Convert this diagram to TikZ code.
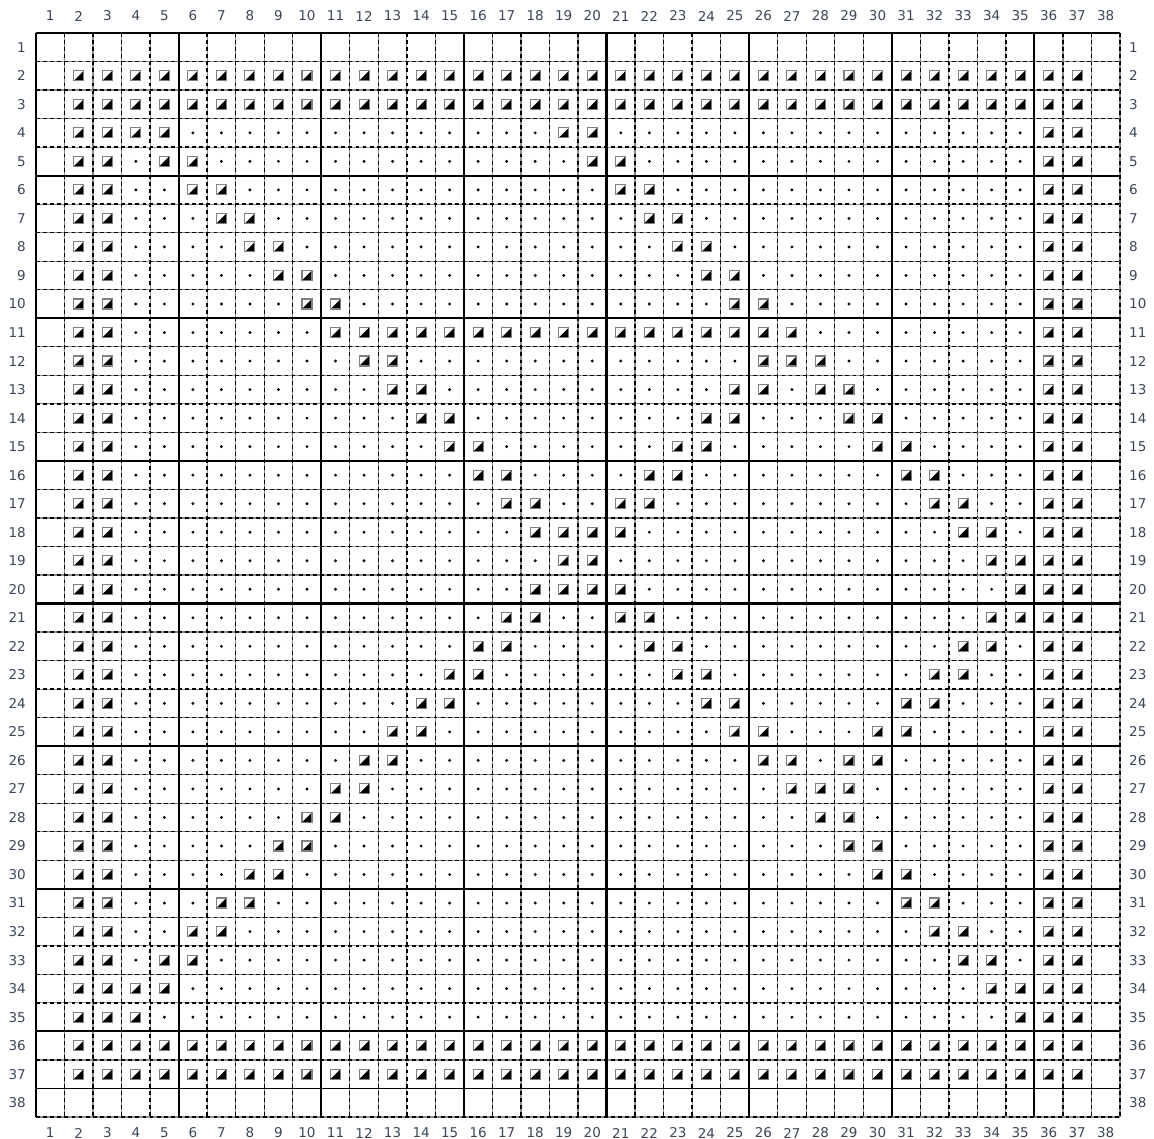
\documentclass[tikz,border=0pt]{standalone}
\usepackage{fontspec}
\setmainfont{DejaVu Sans}
\definecolor{labelc}{RGB}{58,70,86}
\definecolor{markborder}{RGB}{128,128,128}
\definecolor{gridgray}{RGB}{140,140,140}
\def\allcols{2.3.4.5.6.7.8.9.10.11.12.13.14.15.16.17.18.19.20.21.22.23.24.25.26.27.28.29.30.31.32.33.34.35.36.37}
\tikzset{
  lab/.style={text=labelc, font=\fontsize{13.5}{15}\selectfont, inner sep=0pt},
  gridunder/.style={gridgray, line width=1.2pt},
  griddash/.style={black, line width=1.4pt, dash pattern=on 3.8pt off 3.3pt},
  gridbold/.style={black, line width=2.1pt},
  gridthin/.style={black, line width=1.3pt},
  sqmark/.pic={
    \fill[white] (-5,-5) rectangle (5,5);
    \fill[black] (-5,-5) -- (5,-5) -- (5,5) -- cycle;
    \draw[markborder, line width=1.1pt] (-5,-5) rectangle (5,5);
  }
}
\makeatletter
\newcommand\chartcell[3]{%
  \pgfmathsetmacro\chart@x{36+(#2-0.5)*28.526}%
  \pgfmathsetmacro\chart@y{-(33+(#1-0.5)*28.526)}%
  \edef\chart@tmp{\noexpand\in@{.#2.}{.2.3.36.37.#3.}}\chart@tmp
  \ifin@
    \pic at (\chart@x,\chart@y) {sqmark};%
  \else
    \fill[black] (\chart@x,\chart@y) circle[radius=1.6];%
  \fi}
\makeatother
\begin{document}
\begin{tikzpicture}[x=1pt,y=1pt]
\useasboundingbox (0,0) rectangle (1154,-1139);
% dashed grid lines
\foreach \i in {1,2,3,4,6,7,8,9,11,12,13,14,16,17,18,19,21,22,23,24,26,27,28,29,31,32,33,34,36,37,38}{
  \pgfmathsetmacro\gx{36+\i*28.526}
  \draw[gridunder] (\gx,-33) -- (\gx,-1117);
  \draw[griddash] (\gx,-33) -- (\gx,-1117);
}
\foreach \i in {1,2,3,4,6,7,8,9,11,12,13,14,16,17,18,19,21,22,23,24,26,27,28,29,31,32,33,34,36,38}{
  \pgfmathsetmacro\gy{-(33+\i*28.526)}
  \draw[gridunder] (36,\gy) -- (1120,\gy);
  \draw[griddash] (36,\gy) -- (1120,\gy);
}
\draw[gridthin] (36,{-(33+37*28.526)}) -- (1120,{-(33+37*28.526)});
% bold lines every fifth cell
\foreach \i in {0,5,10,15,20,25,30,35}{
  \pgfmathsetmacro\gx{36+\i*28.526}
  \pgfmathsetmacro\gy{-(33+\i*28.526)}
  \draw[gridbold] (\gx,-33) -- (\gx,-1117);
  \draw[gridbold] (36,\gy) -- (1120,\gy);
}
% labels
\foreach \i in {1,...,38}{
  \pgfmathsetmacro\cx{36+(\i-0.5)*28.526}
  \pgfmathsetmacro\cy{-(33+(\i-0.5)*28.526)}
  \node[lab] (t\i) at (\cx,-16) {\i};
  \node[lab] (b\i) at (\cx,-1133) {\i};
  \node[lab,anchor=east] (l\i) at (26,\cy) {\i};
  \node[lab,anchor=west] (r\i) at (1129,\cy) {\i};
}
% cells
\foreach \r/\L in {2/\allcols,3/\allcols,
  4/4.5.19.20, 5/5.6.20.21, 6/6.7.21.22, 7/7.8.22.23, 8/8.9.23.24,
  9/9.10.24.25, 10/10.11.25.26,
  11/11.12.13.14.15.16.17.18.19.20.21.22.23.24.25.26.27,
  12/12.13.26.27.28, 13/13.14.25.26.28.29, 14/14.15.24.25.29.30,
  15/15.16.23.24.30.31, 16/16.17.22.23.31.32, 17/17.18.21.22.32.33,
  18/18.19.20.21.33.34, 19/19.20.34.35, 20/18.19.20.21.35,
  21/17.18.21.22.34.35, 22/16.17.22.23.33.34, 23/15.16.23.24.32.33,
  24/14.15.24.25.31.32, 25/13.14.25.26.30.31, 26/12.13.26.27.29.30,
  27/11.12.27.28.29, 28/10.11.28.29, 29/9.10.29.30, 30/8.9.30.31,
  31/7.8.31.32, 32/6.7.32.33, 33/5.6.33.34, 34/4.5.34.35, 35/4.35,
  36/\allcols, 37/\allcols}{
  \foreach \c in {2,...,37}{\chartcell{\r}{\c}{\L}}
}
\end{tikzpicture}
\end{document}
